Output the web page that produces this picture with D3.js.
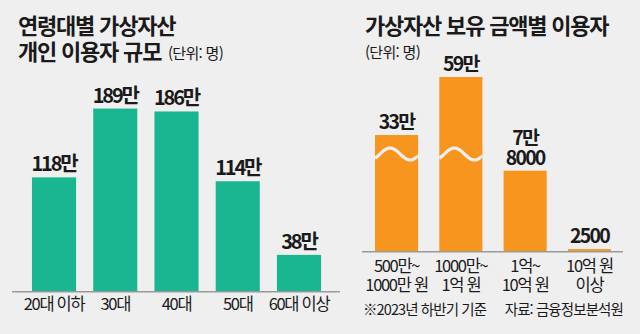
<!DOCTYPE html>
<html lang="ko">
<head>
<meta charset="utf-8">
<script src="https://cdn.jsdelivr.net/npm/d3@7"></script>
<style>
  html, body { margin: 0; padding: 0; background: #efefef; }
  svg { display: block; }
  text { font-family: "Noto Sans CJK KR", "Noto Sans", sans-serif; fill: #1a1a1a; }
</style>
</head>
<body>
<svg id="chart" width="640" height="334"></svg>
<script>
// ── Data ─────────────────────────────────────────────
// Users by age group (unit: 만 명)
const ageGroups = ["20대 이하", "30대", "40대", "50대", "60대 이상"];
const ageUsers = [118, 189, 186, 114, 38];
const ageLabels = ["118만", "189만", "186만", "114만", "38만"];

// Users by holding amount (unit: 만 명)
const amountGroups = [["500만~", "1000만 원"], ["1000만~", "1억 원"], ["1억~", "10억 원"], ["10억 원", "이상"]];
const amountUsers = [33, 59, 7.8, 0.25];
const amountLabels = [["33만"], ["59만"], ["7만", "8000"], ["2500"]];
// Value range hidden behind the wavy break on the tall bars
const amountBreak = [9.6, 25.4];

const GREEN = "#19b691";
const ORANGE = "#f7951f";

const svg = d3.select("#chart");

// ── Titles ───────────────────────────────────────────
function title(x, lines, unit, unitPos) {
  const g = svg.append("g");
  lines.forEach((t, i) => {
    g.append("text")
      .attr("x", x).attr("y", 34 + i * 26)
      .attr("font-size", 22).attr("font-weight", 700)
      .attr("letter-spacing", -1.2)
      .text(t);
  });
  g.append("text")
    .attr("x", unitPos[0]).attr("y", unitPos[1])
    .attr("font-size", 15).attr("fill", "#3a3a3a")
    .attr("letter-spacing", -0.7)
    .text(unit);
}
title(18, ["연령대별 가상자산", "개인 이용자 규모"], "(단위: 명)", [168, 59]);
title(365, ["가상자산 보유 금액별 이용자"], "(단위: 명)", [365, 58]);

// ── Left chart: by age ───────────────────────────────
const xL = d3.scaleBand().domain(ageGroups).range([23.4, 329.6])
  .paddingInner(0.28).paddingOuter(0.14);
const yL = d3.scaleLinear().domain([0, 100]).range([291.7, 194.8]);

const left = svg.append("g");
left.selectAll("rect").data(ageGroups).join("rect")
  .attr("x", d => xL(d))
  .attr("y", (d, i) => yL(ageUsers[i]))
  .attr("width", xL.bandwidth())
  .attr("height", (d, i) => yL(0) - yL(ageUsers[i]))
  .attr("fill", GREEN);

left.selectAll("text.val").data(ageGroups).join("text")
  .attr("class", "val")
  .attr("x", d => xL(d) + xL.bandwidth() / 2)
  .attr("y", (d, i) => yL(ageUsers[i]) - 6)
  .attr("text-anchor", "middle")
  .attr("font-size", 20).attr("font-weight", 700)
  .attr("letter-spacing", -2.2)
  .text((d, i) => ageLabels[i]);

left.append("line")
  .attr("x1", 12).attr("x2", 340)
  .attr("y1", yL(0)).attr("y2", yL(0))
  .attr("stroke", "#9a9a9a").attr("stroke-width", 1.5);

const axL = left.append("g")
  .attr("transform", `translate(0,${yL(0)})`)
  .call(d3.axisBottom(xL).tickSize(0).tickPadding(0));
axL.select(".domain").remove();
axL.selectAll("text")
  .attr("y", 18.5).attr("dy", null)
  .attr("font-size", 16.5).attr("fill", "#1a1a1a")
  .attr("letter-spacing", -1.3)
  .style("font-family", '"Noto Sans CJK KR", sans-serif');

// ── Right chart: by holding amount ───────────────────
const amountKeys = amountGroups.map(d => d.join(" "));
const xR = d3.scaleBand().domain(amountKeys).range([364.4, 621.6])
  .paddingInner(0.33).paddingOuter(0.165);
// Piecewise scale with a flat segment for the broken range
const yR = d3.scaleLinear()
  .domain([0, amountBreak[0], amountBreak[1], 59])
  .range([251.7, 152, 152, 77]);

const right = svg.append("g");
right.selectAll("rect").data(amountKeys).join("rect")
  .attr("x", d => xR(d))
  .attr("y", (d, i) => yR(amountUsers[i]))
  .attr("width", xR.bandwidth())
  .attr("height", (d, i) => yR(0) - yR(amountUsers[i]))
  .attr("fill", ORANGE);

// Wavy break marks on bars that cross the hidden range
const wave = (x0, w, yc) => {
  const pts = d3.range(0, 1.0001, 0.02).map(t => [
    x0 + t * w,
    yc - 6 * Math.sin(-0.79 + 2 * Math.PI * t / 0.93)
  ]);
  return d3.line().curve(d3.curveBasis)(pts);
};
right.selectAll("path.brk")
  .data(amountKeys.filter((d, i) => amountUsers[i] > amountBreak[1]))
  .join("path")
  .attr("class", "brk")
  .attr("d", d => wave(xR(d), xR.bandwidth(), yR(amountBreak[0]) + 2))
  .attr("fill", "none").attr("stroke", "#efefef").attr("stroke-width", 3.2);

right.selectAll("text.val").data(amountKeys).join("text")
  .attr("class", "val")
  .attr("x", d => xR(d) + xR.bandwidth() / 2)
  .attr("text-anchor", "middle")
  .attr("font-size", 19.5).attr("font-weight", 700)
  .attr("letter-spacing", -1.8)
  .each(function (d, i) {
    const lines = amountLabels[i];
    const top = yR(amountUsers[i]) - 6 - (lines.length - 1) * 20;
    d3.select(this).selectAll("tspan").data(lines).join("tspan")
      .attr("x", xR(d) + xR.bandwidth() / 2)
      .attr("y", (t, j) => top + j * 20)
      .text(t => t);
  });

right.append("line")
  .attr("x1", 362).attr("x2", 623)
  .attr("y1", yR(0)).attr("y2", yR(0))
  .attr("stroke", "#9a9a9a").attr("stroke-width", 1.5);

const axR = right.append("g")
  .attr("transform", `translate(0,${yR(0)})`)
  .call(d3.axisBottom(xR).tickSize(0).tickPadding(0));
axR.select(".domain").remove();
axR.selectAll("text")
  .attr("y", null).attr("dy", null)
  .attr("font-size", 16.5).attr("fill", "#1a1a1a")
  .attr("letter-spacing", -1.3)
  .style("font-family", '"Noto Sans CJK KR", sans-serif')
  .text(null)
  .each(function (d, i) {
    d3.select(this).selectAll("tspan").data(amountGroups[i]).join("tspan")
      .attr("x", 0)
      .attr("y", (t, j) => 20 + j * 19)
      .text(t => t);
  });

// ── Footnotes ────────────────────────────────────────
svg.append("text").attr("x", 363).attr("y", 315)
  .attr("font-size", 14.5).attr("fill", "#333").attr("letter-spacing", -0.9)
  .text("※2023년 하반기 기준");
svg.append("text").attr("x", 623).attr("y", 315)
  .attr("text-anchor", "end")
  .attr("font-size", 14.5).attr("fill", "#333").attr("letter-spacing", -0.9)
  .text("자료: 금융정보분석원");
</script>
</body>
</html>
